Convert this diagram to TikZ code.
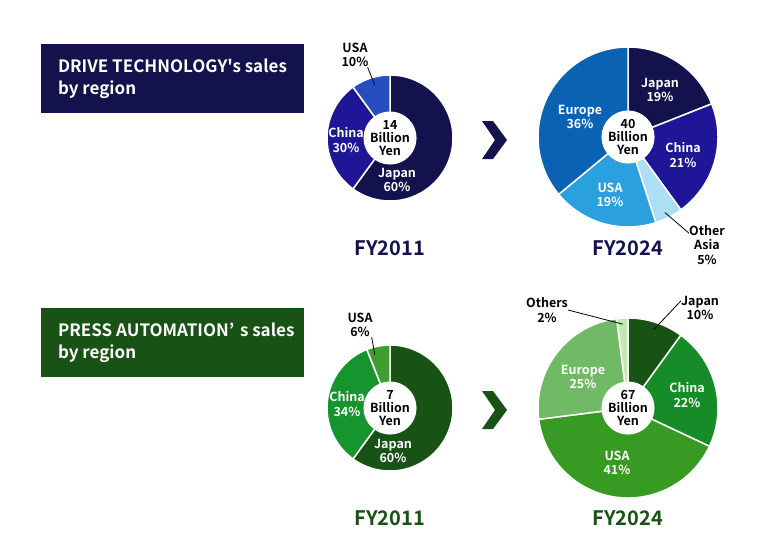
\documentclass[tikz,border=0pt]{standalone}
\usepackage{fontspec}
\setmainfont{Noto Sans CJK JP}[BoldFont={Noto Sans CJK JP Bold},Ligatures=TeXOff]
\usepackage{tikz}
\usetikzlibrary{positioning}
\definecolor{navy}{RGB}{19,18,77}
\definecolor{dtchina}{RGB}{30,22,150}
\definecolor{dtusa}{RGB}{38,78,190}
\definecolor{dteurope}{RGB}{12,98,178}
\definecolor{dtusab}{RGB}{42,160,222}
\definecolor{dtasia}{RGB}{172,222,245}
\definecolor{forest}{RGB}{24,82,20}
\definecolor{pachina}{RGB}{22,148,46}
\definecolor{pausa}{RGB}{62,158,48}
\definecolor{pachinab}{RGB}{22,140,40}
\definecolor{pausab}{RGB}{55,155,35}
\definecolor{paeurope}{RGB}{112,186,102}
\definecolor{paothers}{RGB}{196,232,176}
% center, radius, from, to, colour
\newcommand{\pieslice}[5]{\fill[#5,draw=white,line width=1.5pt] (#1) -- ++(#3:#2) arc[start angle=#3,end angle=#4,radius=#2] -- cycle;}
\tikzset{
  lbl/.style={text=white,align=center,inner sep=0pt,font=\bfseries\fontsize{12.5}{14.5}\selectfont},
  outlbl/.style={lbl,text=black},
  hub/.style={circle,fill=white,inner sep=0pt,align=center,font=\bfseries\fontsize{12.5}{13}\selectfont},
  titlebox/.style={minimum width=263pt,minimum height=69pt,inner sep=0pt},
  boxtext/.style={text=white,align=left,inner sep=0pt,font=\bfseries\fontsize{17}{22}\selectfont},
  fy/.style={inner sep=0pt,font=\bfseries\fontsize{20}{22}\selectfont},
  leader/.style={draw=black,line width=0.8pt}
}

\begin{document}
\begin{tikzpicture}[x=1pt,y=1pt]
  \useasboundingbox (0,0) rectangle (775,550);
  % drive technology
  \node[titlebox,fill=navy] (dtbox) at (172.5,471.5) {};
  \node[boxtext,right=17pt of dtbox.west,anchor=west] (dttitle) {DRIVE TECHNOLOGY's sales\\by region};
  \coordinate (tl) at (390,412);
  \pieslice{tl}{63}{90}{-126}{navy}
  \pieslice{tl}{63}{-126}{-234}{dtchina}
  \pieslice{tl}{63}{126}{90}{dtusa}
  \node[hub,minimum size=44pt] (tlhub) at (tl) {14\\Billion\\Yen};
  \node[lbl] (tljapan) at (397,370) {Japan\\60\%};
  \node[lbl] (tlchina) at (346,410) {China\\30\%};
  \node[outlbl] (tlusa) at (355,495) {USA\\10\%};
  \path (tl) ++(106:55) coordinate (tlusatip);
  \draw[leader] (tlusatip) -- ([xshift=-1pt]tlusa.south east);
  \node[fy,text=navy] (dtold) at (390,302) {FY2011};

  \fill[navy] (482,429) -- (493,429) -- (507,410) -- (493,391) -- (482,391) -- (495,410) -- cycle;

  \coordinate (tr) at (628,413);
  \pieslice{tr}{90}{90}{21.6}{navy}
  \pieslice{tr}{90}{21.6}{-54}{dtchina}
  \pieslice{tr}{90}{-54}{-72}{dtasia}
  \pieslice{tr}{90}{-72}{-140.4}{dtusab}
  \pieslice{tr}{90}{-140.4}{-270}{dteurope}
  \node[hub,minimum size=47pt] (trhub) at (tr) {40\\Billion\\Yen};
  \node[lbl] (trjapan) at (660,460) {Japan\\19\%};
  \node[lbl] (trchina) at (683,395) {China\\21\%};
  \node[lbl] (trusa) at (610,355) {USA\\19\%};
  \node[lbl] (treurope) at (580,433) {Europe\\36\%};
  \node[outlbl] (trasia) at (707,305) {Other\\Asia\\5\%};
  \path (tr) ++(-64:84) coordinate (trasiatip);
  \draw[leader] (trasiatip) -- ([yshift=-8pt]trasia.north west);
  \node[fy,text=navy] (dtnew) at (628,302) {FY2024};

  % press automation
  \node[titlebox,fill=forest] (pabox) at (172.5,207.5) {};
  \node[boxtext,right=17pt of pabox.west,anchor=west] (patitle) {PRESS AUTOMATION’\,\,s sales\\by region};
  \coordinate (bl) at (390,142);
  \pieslice{bl}{63}{90}{-126}{forest}
  \pieslice{bl}{63}{-126}{-248.4}{pachina}
  \pieslice{bl}{63}{111.6}{90}{pausa}
  \node[hub,minimum size=44pt] (blhub) at (bl) {7\\Billion\\Yen};
  \node[lbl] (bljapan) at (393,99) {Japan\\60\%};
  \node[lbl] (blchina) at (347,146) {China\\34\%};
  \node[outlbl] (blusa) at (360,225) {USA\\6\%};
  \path (bl) ++(106:55) coordinate (blusatip);
  \draw[leader] (blusatip) -- ([xshift=-1pt]blusa.south east);
  \node[fy,text=forest] (paold) at (390,32) {FY2011};

  \fill[forest] (482,159) -- (493,159) -- (507,140) -- (493,121) -- (482,121) -- (495,140) -- cycle;

  \coordinate (br) at (628,142);
  \pieslice{br}{90}{90}{54}{forest}
  \pieslice{br}{90}{54}{-25.2}{pachinab}
  \pieslice{br}{90}{-25.2}{-172.8}{pausab}
  \pieslice{br}{90}{-172.8}{-262.8}{paeurope}
  \pieslice{br}{90}{97.2}{90}{paothers}
  \node[hub,minimum size=47pt] (brhub) at (br) {67\\Billion\\Yen};
  \node[lbl] (brchina) at (687,155) {China\\22\%};
  \node[lbl] (brusa) at (617,87) {USA\\41\%};
  \node[lbl] (breurope) at (583,173) {Europe\\25\%};
  \node[outlbl] (brjapan) at (700,242) {Japan\\10\%};
  \node[outlbl] (brothers) at (547,240) {Others\\2\%};
  \path (br) ++(72:82) coordinate (brjapantip);
  \path (br) ++(93.6:84) coordinate (brotherstip);
  \draw[leader] (brjapantip) -- ([yshift=-5pt]brjapan.north west);
  \draw[leader] (brotherstip) -- (brothers.east);
  \node[fy,text=forest] (panew) at (628,32) {FY2024};
\end{tikzpicture}
\end{document}
